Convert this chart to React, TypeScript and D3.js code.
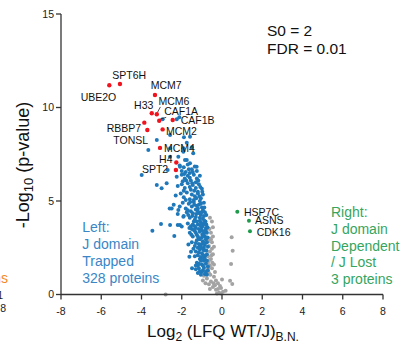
import React from "react";
import * as d3 from "d3";

// chart size and plot frame
const width = 408;
const height = 347;
const margin = { top: 14, right: 25, bottom: 52.5, left: 61 };

// axis ticks
const xTicks = [-8, -6, -4, -2, 0, 2, 4, 6, 8];
const yTicks = [0, 5, 10, 15];

// labelled hits, left side (J domain trapped)
const leftHits = [
  { name: "SPT6H", x: -5.07, y: 11.26 },
  { name: "UBE2O", x: -5.6, y: 11.19 },
  { name: "MCM7", x: -3.33, y: 10.67 },
  { name: "H33", x: -3.49, y: 9.69 },
  { name: "MCM6", x: -3.24, y: 9.64 },
  { name: "CAF1A", x: -3.12, y: 9.29 },
  { name: "CAF1B", x: -2.45, y: 9.33 },
  { name: "RBBP7", x: -3.86, y: 9.19 },
  { name: "MCM2", x: -2.95, y: 8.83 },
  { name: "TONSL", x: -3.71, y: 8.8 },
  { name: "MCM4", x: -3.08, y: 7.84 },
  { name: "H4", x: -2.27, y: 7.06 },
  { name: "SPT2", x: -2.29, y: 6.66 },
];

// labelled hits, right side (J lost)
const rightHits = [
  { name: "HSP7C", x: 0.76, y: 4.43 },
  { name: "ASNS", x: 1.34, y: 3.95 },
  { name: "CDK16", x: 1.39, y: 3.38 },
];

// other significant proteins on the left
const leftOther: [number, number][] = [
  [-2.95, 9.37], [-2.25, 9.37], [-2.12, 9.48], [-2.58, 8.53], [-1.89, 8.41],
  [-1.59, 8.44], [-3.24, 8.26], [-1.75, 8.12], [-3.66, 7.73], [-1.5, 7.87],
  [-1.92, 7.82], [-2.58, 7.82], [-1.43, 7.55], [-2.58, 7.37], [-2.17, 7.37],
  [-1.75, 7.19], [-1.59, 7.02], [-1.26, 6.83], [-3.99, 6.39], [-3.24, 5.86],
  [-3.0, 5.68], [-2.75, 5.95], [-2.7, 6.66], [-2.09, 6.83], [-1.92, 7.64],
  [-1.84, 7.19],
  [-2.1, 6.9], [-1.9, 6.8], [-1.7, 6.95], [-1.5, 6.7], [-1.35, 6.85],
  [-2.0, 6.6], [-1.8, 6.55], [-1.6, 6.5], [-1.25, 6.6],
  [-2.25, 6.3], [-2.0, 6.4], [-1.85, 6.2], [-1.7, 6.35], [-1.55, 6.1],
  [-1.4, 6.4], [-1.25, 6.2], [-1.1, 6.35], [-1.95, 6.05], [-1.6, 6.25], [-1.3, 6.0],
  [-2.2, 5.8], [-2.0, 5.9], [-1.85, 5.7], [-1.7, 5.95], [-1.55, 5.6],
  [-1.45, 5.85], [-1.3, 5.7], [-1.15, 5.9], [-1.0, 5.65], [-1.9, 5.55],
  [-1.6, 5.75], [-1.2, 5.5],
  [-2.3, 5.3], [-2.05, 5.4], [-1.9, 5.2], [-1.75, 5.45], [-1.6, 5.1],
  [-1.5, 5.35], [-1.35, 5.25], [-1.2, 5.4], [-1.05, 5.15], [-0.95, 5.35],
  [-1.8, 5.05], [-1.4, 5.05], [-1.1, 5.0],
  [-2.4, 4.8], [-2.1, 4.7], [-1.95, 4.9], [-1.8, 4.6], [-1.65, 4.85],
  [-1.5, 4.7], [-1.4, 4.95], [-1.3, 4.55], [-1.15, 4.8], [-1.0, 4.65],
  [-0.9, 4.9], [-1.7, 4.5], [-1.25, 4.75], [-2.6, 4.6], [-2.5, 4.6], [-2.17, 4.52],
  [-2.2, 4.3], [-1.9, 4.2], [-1.75, 4.4], [-1.6, 4.1], [-1.45, 4.35],
  [-1.3, 4.15], [-1.2, 4.45], [-1.05, 4.25], [-0.95, 4.05], [-0.85, 4.4],
  [-1.55, 4.45], [-1.35, 4.0], [-1.1, 4.1], [-0.9, 4.2], [-1.92, 4.16],
  [-1.7, 3.8], [-1.55, 3.65], [-1.4, 3.9], [-1.3, 3.55], [-1.2, 3.75],
  [-1.1, 3.95], [-1.0, 3.6], [-0.9, 3.8], [-0.8, 3.55], [-1.5, 3.5],
  [-1.15, 3.5], [-0.95, 3.7], [-0.82, 3.9],
  [-1.6, 3.3], [-1.45, 3.1], [-1.35, 3.4], [-1.25, 3.2], [-1.1, 3.35],
  [-1.0, 3.05], [-0.9, 3.25], [-0.8, 3.45], [-1.15, 3.0], [-0.85, 3.1],
  [-1.4, 3.45], [-0.95, 3.4],
  [-1.5, 2.8], [-1.35, 2.6], [-1.25, 2.9], [-1.15, 2.7], [-1.05, 2.55],
  [-0.95, 2.85], [-0.85, 2.65], [-0.8, 2.95], [-1.1, 2.95], [-1.2, 2.5], [-0.9, 2.5],
  [-1.3, 2.3], [-1.2, 2.1], [-1.1, 2.4], [-1.0, 2.2], [-0.9, 2.35],
  [-0.85, 2.05], [-1.05, 2.0], [-0.95, 2.45],
  [-1.25, 1.7], [-1.1, 1.9], [-1.0, 1.6], [-0.9, 1.8], [-0.8, 1.65],
  [-1.2, 1.55], [-0.95, 1.95],
  [-1.3, 1.35], [-1.15, 1.4], [-1.0, 1.2], [-0.9, 1.45], [-0.85, 1.1], [-0.7, 1.3],
  [-3.46, 3.41], [-3.03, 3.77], [-2.58, 3.72], [-2.37, 3.13], [-2.2, 3.72],
  [-2.0, 3.63], [-2.09, 3.72], [-1.67, 2.68], [-1.54, 2.29], [-1.49, 1.4],
  [-1.62, 2.02],
  [-1.28, 5.15], [-1.12, 5.25], [-0.98, 5.5], [-1.38, 5.55], [-1.08, 5.75],
  [-1.48, 5.95], [-1.78, 6.1], [-1.18, 6.1], [-1.45, 6.55], [-1.65, 6.7], [-1.88, 6.45],
  [-1.05, 4.85], [-0.95, 4.5], [-1.2, 4.6], [-1.38, 4.8], [-1.58, 4.95],
  [-0.88, 4.65], [-1.12, 4.35], [-1.28, 4.3], [-1.48, 4.2], [-1.68, 4.25],
  [-0.78, 4.25], [-1.02, 4.4],
  [-0.78, 3.75], [-0.88, 3.95], [-1.05, 3.85], [-1.25, 3.9], [-1.45, 3.75],
  [-1.62, 3.55], [-1.08, 3.7], [-0.72, 3.6], [-1.35, 3.65],
  [-0.75, 3.3], [-0.72, 3.05], [-0.98, 3.2], [-1.2, 3.1], [-1.3, 3.3],
  [-1.52, 3.2], [-1.05, 3.45], [-0.88, 3.35],
  [-0.75, 2.8], [-0.7, 2.55], [-1.0, 2.7], [-1.3, 2.75], [-1.42, 2.45],
  [-1.1, 2.6], [-0.88, 2.75], [-1.15, 2.25], [-0.78, 2.35], [-0.75, 2.15],
  [-0.92, 2.1], [-1.35, 2.05],
  [-1.05, 1.8], [-0.85, 1.9], [-0.75, 1.8], [-1.15, 1.65], [-0.95, 1.55],
  [-0.7, 1.5], [-1.3, 1.55],
  [-1.1, 1.25], [-0.95, 1.3], [-0.8, 1.2], [-1.2, 1.15], [-0.75, 1.05], [-1.05, 1.05],
];

// non-significant proteins
const nonSig: [number, number][] = [
  [-0.6, 4.1], [-0.5, 3.9], [-0.45, 3.6], [-0.55, 3.3], [-0.45, 3.1], [-0.6, 3.0],
  [-0.5, 2.8], [-0.65, 2.6], [-0.4, 2.55], [-0.55, 2.95],
  [-0.6, 2.3], [-0.45, 2.15], [-0.7, 2.05], [-0.5, 2.45],
  [-0.55, 1.9], [-0.7, 1.7], [-0.4, 1.6], [-0.6, 1.55],
  [-0.8, 1.3], [-0.65, 1.15], [-0.5, 1.4], [-0.35, 1.2], [-0.9, 1.0],
  [-0.75, 0.85], [-0.55, 0.7], [-0.4, 0.95], [-0.2, 0.6], [-0.65, 0.55],
  [0.0, 0.8], [-0.95, 0.75],
  [-0.45, 0.4], [-0.3, 0.25], [-0.15, 0.1], [-0.05, 0.35], [-0.25, 0.05],
  [-0.6, 0.3], [0.05, 0.15],
  [-0.68, 2.85], [-0.62, 3.5], [-0.52, 2.1], [-0.62, 1.85], [-0.48, 1.7],
  [-0.68, 1.45], [-0.58, 1.05], [-0.42, 0.6], [-0.3, 0.75], [-0.82, 0.6],
  [-0.1, 0.45], [-0.2, 0.3], [-0.05, 0.05], [-0.35, 0.5],
  [0.48, 3.06], [0.53, 2.34], [0.45, 1.63], [0.4, 0.74], [0.51, 0.56],
  [0.18, 0.2], [-2.8, 0.0],
];

// text blocks
const statsText = ["S0 = 2", "FDR = 0.01"];
const leftText = ["Left:", "J domain", "Trapped", "328 proteins"];
const rightText = ["Right:", "J domain", "Dependent", "/ J Lost", "3 proteins"];

// label placement, pixel offsets from the point
const labelOffsets: Record<string, [number, number]> = {
  SPT6H: [-7.6, -5], UBE2O: [-28.6, 15.4], MCM7: [-4.3, -5.7], H33: [-17.7, -4],
  MCM6: [1.6, -9.3], CAF1A: [5, -5.4], CAF1B: [8, 4], RBBP7: [-37.6, 9],
  MCM2: [3.3, 5.7], TONSL: [-34, 14], MCM4: [4, 3.9], H4: [-17.2, 0.8],
  SPT2: [-34, 3.3], HSP7C: [6.7, 4.3], ASNS: [6, 3.3], CDK16: [6.7, 4.4],
};
const leaders = ["MCM6", "CAF1A"];

const font = "'Liberation Sans', Arial, Helvetica, sans-serif";
const axisColor = "#333";
const blue = "#1f78b9";
const red = "#f0141e";
const green = "#1e9b4b";
const gray = "#a3a3a3";

export default function App() {
  const x = d3
    .scaleLinear()
    .domain([-8, 8])
    .range([margin.left, width - margin.right]);
  const y = d3
    .scaleLinear()
    .domain([0, 15])
    .range([height - margin.bottom, margin.top]);

  const y0 = y(0);

  return (
    <svg
      width={width}
      height={height}
      style={{ position: "absolute", left: 0, top: 0, background: "#fff" }}
      fontFamily={font}
    >
      {/* cut-off text from neighbouring panel */}
      <text x={8} y={283} fontSize={14} fill="#f58a1f" textAnchor="end">proteins</text>
      <text x={3} y={298.5} fontSize={10.5} fill="#222" textAnchor="end">1</text>
      <text x={6} y={312} fontSize={10.5} fill="#222" textAnchor="end">8</text>

      {/* points */}
      {nonSig.map((d, i) => (
        <circle key={"g" + i} cx={x(d[0])} cy={y(d[1])} r={2} fill={gray} />
      ))}
      {leftOther.map((d, i) => (
        <circle key={"b" + i} cx={x(d[0])} cy={y(d[1])} r={2} fill={blue} />
      ))}

      {/* axes */}
      <g stroke={axisColor} strokeWidth={1.3} fill="none">
        <line x1={x(-8)} x2={x(8)} y1={y0} y2={y0} />
        <line x1={x(-8)} x2={x(-8)} y1={y(0)} y2={y(15)} />
        {xTicks.map((t) => (
          <line key={t} x1={x(t)} x2={x(t)} y1={y0} y2={y0 + 5} />
        ))}
        {yTicks.map((t) => (
          <line key={t} x1={x(-8) - 5} x2={x(-8)} y1={y(t)} y2={y(t)} />
        ))}
      </g>
      {xTicks.map((t) => (
        <text key={t} x={x(t)} y={y0 + 20.5} fontSize={10.5} fill="#222" textAnchor="middle">
          {t}
        </text>
      ))}
      {yTicks.map((t) => (
        <text key={t} x={x(-8) - 7} y={y(t) + 3.8} fontSize={10.5} fill="#222" textAnchor="end">
          {t}
        </text>
      ))}

      {/* axis titles */}
      <text x={223} y={337} fontSize={17} fill="#111" textAnchor="middle">
        Log<tspan dy={4} fontSize={12}>2</tspan>
        <tspan dy={-4}> (LFQ WT/J)</tspan>
        <tspan dy={4} fontSize={12}>B.N.</tspan>
      </text>
      <text
        transform="translate(28.5,165) rotate(-90)"
        fontSize={18}
        fill="#111"
        textAnchor="middle"
      >
        -Log<tspan dy={4} fontSize={13}>10</tspan>
        <tspan dy={-4}> (p-value)</tspan>
      </text>

      {/* highlighted hits */}
      {leaders.map((n) => {
        const h = leftHits.find((d) => d.name === n)!;
        const [dx, dy] = labelOffsets[n];
        return (
          <line
            key={"l" + n}
            x1={x(h.x) + dx + 2}
            y1={y(h.y) + dy + 2}
            x2={x(h.x) + 0.5}
            y2={y(h.y) - 1.5}
            stroke="#222"
            strokeWidth={0.8}
          />
        );
      })}
      {leftHits.map((d) => (
        <circle key={d.name} cx={x(d.x)} cy={y(d.y)} r={2.2} fill={red} />
      ))}
      {rightHits.map((d) => (
        <circle key={d.name} cx={x(d.x)} cy={y(d.y)} r={2} fill={green} />
      ))}
      {[...leftHits, ...rightHits].map((d) => {
        const [dx, dy] = labelOffsets[d.name];
        return (
          <text key={"t" + d.name} x={x(d.x) + dx} y={y(d.y) + dy} fontSize={10.5} fill="#111">
            {d.name}
          </text>
        );
      })}

      {/* annotations */}
      {statsText.map((s, i) => (
        <text key={s} x={267} y={36 + i * 18.3} fontSize={15.5} fill="#111">
          {s}
        </text>
      ))}
      {leftText.map((s, i) => (
        <text key={s} x={82.3} y={232.3 + i * 16.9} fontSize={14} fill="#3a86c6">
          {s}
        </text>
      ))}
      {rightText.map((s, i) => (
        <text key={s + i} x={331} y={217.3 + i * 16.7} fontSize={14} fill="#35a560">
          {s}
        </text>
      ))}
    </svg>
  );
}
